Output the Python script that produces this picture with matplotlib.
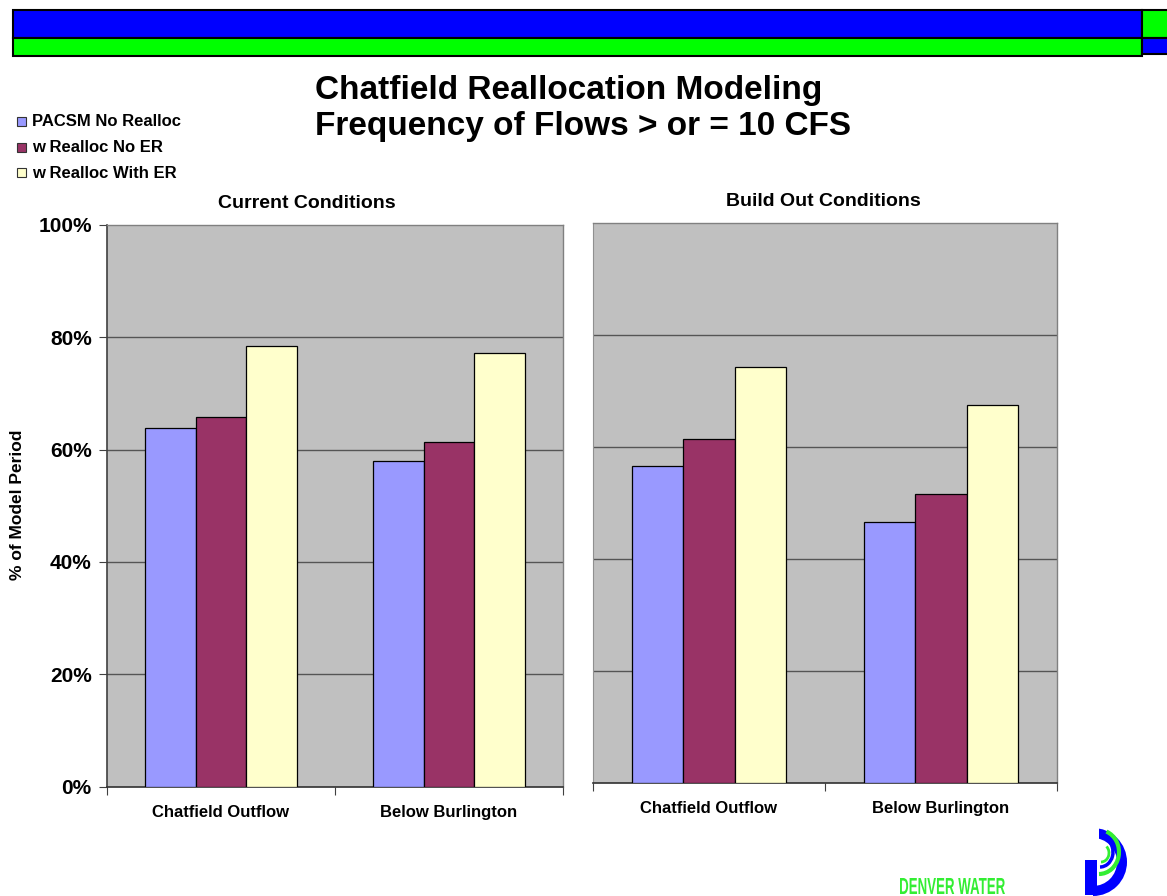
import matplotlib.pyplot as plt
import matplotlib.patches as patches
from matplotlib.textpath import TextPath
from matplotlib.font_manager import FontProperties
from matplotlib.transforms import Affine2D
import numpy as np

# -------------------------- Data --------------------------
categories = ['Chatfield Outflow', 'Below Burlington']
series_names = ['PACSM No Realloc', 'w Realloc No ER', 'w Realloc With ER']
series_colors = ['#9999FF', '#993366', '#FFFFCC']

current_vals = [[63.9, 57.9],   # PACSM No Realloc
                [65.7, 61.3],   # w Realloc No ER
                [78.5, 77.1]]   # w Realloc With ER
buildout_vals = [[56.6, 46.5],
                 [61.4, 51.6],
                 [74.3, 67.4]]

yticks = [0, 20, 40, 60, 80, 100]
ytick_labels = ['0%', '20%', '40%', '60%', '80%', '100%']

W, H = 1167, 896
fig = plt.figure(figsize=(W / 100, H / 100), dpi=100)
FONT = 'Liberation Sans'


def px_rect(x0, y0, x1, y1):
    # figure fraction box from pixel coords (top-left origin)
    return [x0 / W, 1 - y1 / H, (x1 - x0) / W, (y1 - y0) / H]


def draw_panel(ax, vals, show_y):
    ax.set_facecolor('#C0C0C0')
    n = len(series_names)
    bw = 1 / 4.5
    x = np.arange(len(categories)) + 0.5
    for i in range(n):
        off = (i - (n - 1) / 2) * bw
        ax.bar(x + off, vals[i], bw, color=series_colors[i], edgecolor='black',
               linewidth=0.9, zorder=3)
    ax.set_xlim(0, len(categories))
    ax.set_ylim(0, 100)
    for yv in yticks[1:-1]:
        ax.axhline(yv, color='#555555', linewidth=1.0, zorder=1)
    ax.set_xticks(np.arange(len(categories) + 1))
    ax.set_xticklabels([])
    ax.set_xticks(x, minor=True)
    ax.set_xticklabels(categories, minor=True, fontsize=12, fontweight='bold', family=FONT)
    ax.tick_params(axis='x', which='major', direction='out', length=6, color='#404040')
    ax.tick_params(axis='x', which='minor', length=0, pad=13)
    for s in ['top', 'right']:
        ax.spines[s].set_color('#808080')
        ax.spines[s].set_linewidth(1.0)
    ax.spines['bottom'].set_color('#303030')
    ax.spines['bottom'].set_linewidth(1.2)
    if show_y:
        ax.set_yticks(yticks)
        ax.set_yticklabels(ytick_labels, fontsize=15, fontweight='bold', family=FONT)
        ax.tick_params(axis='y', direction='out', length=6, color='#404040', pad=5)
        ax.spines['left'].set_color('#404040')
        ax.spines['left'].set_linewidth(1.2)
    else:
        ax.set_yticks([])
        ax.spines['left'].set_color('#909090')


ax1 = fig.add_axes(px_rect(107, 224.7, 563, 786.7))
draw_panel(ax1, current_vals, True)
ax2 = fig.add_axes(px_rect(593, 222.7, 1057, 783.0))
draw_panel(ax2, buildout_vals, False)

# -------------------------- Decorations (pixel overlay) --------------------------
ov = fig.add_axes([0, 0, 1, 1], zorder=-1)
ov.set_xlim(0, W)
ov.set_ylim(H, 0)
ov.axis('off')

# banner bars at the top
ov.add_patch(patches.Rectangle((13, 10), 1129, 28, facecolor='#0000FF', edgecolor='black', linewidth=1.5))
ov.add_patch(patches.Rectangle((13, 38), 1129, 18, facecolor='#00FF00', edgecolor='black', linewidth=1.5))
ov.add_patch(patches.Rectangle((1142, 10), 30, 28, facecolor='#00FF00', edgecolor='black', linewidth=1.5))
ov.add_patch(patches.Rectangle((1142, 38), 30, 16, facecolor='#0000FF', edgecolor='black', linewidth=1.5))

# main title
ov.text(315, 91, 'Chatfield Reallocation Modeling', fontsize=24, fontweight='bold',
        family=FONT, va='center', ha='left')
ov.text(315, 127, 'Frequency of Flows > or = 10 CFS', fontsize=24, fontweight='bold',
        family=FONT, va='center', ha='left')

# panel titles
ov.text(307, 204, 'Current Conditions', fontsize=14, fontweight='bold', family=FONT,
        va='center', ha='center')
ov.text(823, 202, 'Build Out Conditions', fontsize=14, fontweight='bold', family=FONT,
        va='center', ha='center')

# y axis label
ov.text(18, 505, '% of Model Period', fontsize=12.5, fontweight='bold', family=FONT,
        rotation=90, va='center', ha='center')

# legend
for i, (name, col) in enumerate(zip(series_names, series_colors)):
    yc = 122 + i * 25.5
    ov.add_patch(patches.Rectangle((17, yc - 4.5), 9, 9, facecolor=col, edgecolor='#333333', linewidth=0.8))
    ov.text(32, yc, name, fontsize=12, fontweight='bold', family=FONT, va='center', ha='left')

# Denver Water wordmark, squeezed sideways and clipped at the bottom edge
wm = TextPath((0, 0), 'DENVER WATER', size=20, prop=FontProperties(family=FONT, weight='bold'))
ext = wm.get_extents()
sx = 105 / ext.width
sy = 16 / ext.height
wm_tf = Affine2D().translate(-ext.x0, -ext.y0).scale(sx, -sy).translate(900, 878 + 16)
ov.add_patch(patches.PathPatch(wm_tf.transform_path(wm), facecolor='#33EE33', edgecolor='none'))

# logo: blue D with green arcs
ov.add_patch(patches.Rectangle((1085, 860), 12, 35, facecolor='#0000FF', edgecolor='none'))
ov.add_patch(patches.Wedge((1093, 862), 34, -90, 90, width=10, facecolor='#0000FF', edgecolor='none'))
ov.add_patch(patches.Arc((1099, 852), 40, 44, theta1=-70, theta2=90, color='#33EE33', linewidth=3))
ov.add_patch(patches.Arc((1100, 852), 26, 30, theta1=-60, theta2=90, color='#0000FF', linewidth=2.5))
ov.add_patch(patches.Arc((1101, 853), 16, 18, theta1=-50, theta2=90, color='#33EE33', linewidth=2))
ov.add_patch(patches.Rectangle((1085, 828), 14, 20, facecolor='white', edgecolor='none'))

fig.savefig('out.png', dpi=100)
